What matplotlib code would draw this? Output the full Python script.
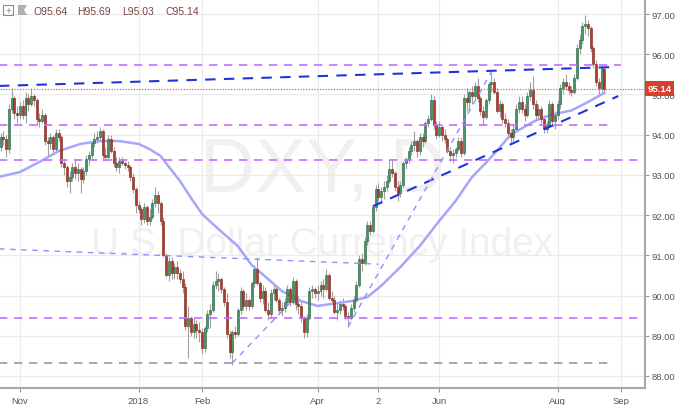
import numpy as np
import pandas as pd
import matplotlib
matplotlib.use("Agg")
import matplotlib.pyplot as plt
from matplotlib.patches import Rectangle, Polygon
from matplotlib.transforms import blended_transform_factory

# daily DXY candles, weekdays 2017-10-23 .. 2018-08-24
dates = pd.bdate_range("2017-10-23", "2018-08-24")

opens = [
    93.70, 93.95, 93.90, 93.65, 94.65, 94.90, 94.55,  # oct
    94.50, 94.70, 94.50, 94.90, 94.75, 94.95, 94.85, 94.40, 94.35, 94.50, 93.85,
    93.80, 93.95, 93.65, 94.05, 93.95, 93.30, 93.20, 92.85, 92.95, 93.20, 93.05,  # nov
    93.15, 92.90, 93.10, 93.40, 93.50, 93.80, 93.90, 93.95, 94.10, 93.50, 93.45,
    93.90, 93.60, 93.30, 93.20, 93.35, 93.30, 93.25, 93.20, 92.95, 92.65,  # dec
    92.25, 92.15, 91.90, 92.20, 91.85, 91.95, 92.30, 92.50, 92.30, 91.85, 91.00, 90.50,
    90.85, 90.55, 90.70, 90.55, 90.40, 90.20, 89.25, 89.45, 89.10, 89.30, 89.15,  # jan
    89.10, 88.70, 89.20, 89.55, 89.65, 90.25, 90.35, 90.40, 90.15, 89.85,
    89.05, 88.60, 89.10, 89.05, 89.65, 90.10, 89.75, 89.90, 89.75, 90.30,  # feb
    90.65, 90.30, 89.95, 90.10, 89.65, 89.55, 90.05, 90.15, 89.90, 89.65, 89.70,
    89.85, 90.15, 89.85, 90.35, 89.80, 89.75, 89.45, 89.10, 89.45, 90.10, 90.15,  # mar
    90.05, 90.10, 90.25, 90.15, 90.50, 89.95, 89.90, 89.60, 89.65, 89.80, 89.75,
    89.50, 89.45, 89.70, 89.90, 90.25, 90.90, 90.80, 91.35, 91.75, 91.60,  # apr
    92.20, 92.65, 92.45, 92.60, 92.70, 92.85, 93.15, 93.05, 92.70, 92.55, 92.75, 93.30,
    93.40, 93.60, 93.75, 93.85, 93.60, 93.95, 93.85, 94.30, 94.40, 94.85, 94.25,  # may
    94.00, 94.20, 94.00, 93.90, 93.60, 93.50, 93.55, 93.65, 93.85, 93.55, 94.90,
    94.80, 95.05, 94.95, 95.20, 94.90, 94.60, 94.45, 94.85, 95.25, 95.30,  # jun
    95.05, 94.60, 94.75, 94.40, 94.30, 94.05, 93.95, 94.15, 94.65, 94.80, 94.65,
    94.50, 94.95, 95.10, 94.75, 94.50, 94.65, 94.40, 94.15, 94.25, 94.75, 94.35,  # jul
    94.50, 94.75, 95.15, 95.30, 95.20, 95.10, 95.05, 95.40, 96.15,
    96.35, 96.70, 96.75, 96.65, 96.15, 95.75, 95.30, 95.15, 95.64,  # aug
]
highs = [
    94.05, 94.10, 94.00, 94.75, 95.15, 94.95, 94.70,
    94.80, 94.85, 95.05, 95.00, 95.15, 95.00, 94.90, 94.55, 94.65, 94.55, 93.95,
    94.05, 94.00, 94.15, 94.15, 94.00, 93.40, 93.25, 93.10, 93.30, 93.40, 93.30,
    93.20, 93.20, 93.50, 93.60, 93.85, 94.05, 94.10, 94.20, 94.15, 93.70, 94.00,
    94.00, 93.70, 93.45, 93.45, 93.45, 93.35, 93.35, 93.25, 93.05, 92.70,
    92.35, 92.20, 92.30, 92.25, 92.15, 92.40, 92.70, 92.60, 92.35, 91.95, 91.05, 90.95,
    90.95, 90.80, 90.85, 90.65, 90.60, 90.30, 89.75, 89.50, 89.45, 89.40, 89.35,
    89.20, 89.25, 89.65, 89.80, 90.35, 90.60, 90.55, 90.45, 90.20, 90.05,
    89.15, 89.15, 89.25, 89.70, 90.20, 90.15, 90.05, 89.95, 90.35, 90.75,
    90.95, 90.35, 90.25, 90.20, 89.85, 90.15, 90.30, 90.20, 89.95, 89.85, 89.95,
    90.25, 90.20, 90.45, 90.40, 90.00, 89.85, 89.50, 89.55, 90.20, 90.25, 90.20,
    90.25, 90.35, 90.40, 90.65, 90.55, 90.10, 90.00, 89.85, 89.90, 89.95, 89.80,
    89.60, 89.80, 90.00, 90.35, 91.00, 91.05, 91.45, 91.85, 91.85, 92.25,
    92.75, 92.80, 92.70, 92.85, 93.00, 93.40, 93.40, 93.10, 92.85, 92.85, 93.35, 93.45,
    93.70, 93.85, 94.10, 93.90, 94.05, 94.05, 94.35, 94.50, 95.00, 94.95, 94.35,
    94.35, 94.25, 94.15, 93.95, 93.70, 93.65, 93.70, 93.95, 93.95, 95.00, 95.15,
    95.10, 95.20, 95.30, 95.40, 94.95, 94.70, 94.90, 95.30, 95.55, 95.40,
    95.15, 94.85, 94.80, 94.55, 94.40, 94.15, 94.25, 94.75, 94.95, 94.95, 94.75,
    95.05, 95.30, 95.45, 94.85, 94.75, 94.70, 94.50, 94.35, 94.85, 94.80, 94.60,
    94.85, 95.25, 95.40, 95.50, 95.30, 95.20, 95.50, 96.25, 96.50,
    96.80, 96.98, 96.85, 96.70, 96.20, 95.85, 95.40, 95.70, 95.69,
]
lows = [
    93.60, 93.75, 93.45, 93.55, 94.55, 94.40, 94.30,
    94.40, 94.40, 94.30, 94.60, 94.70, 94.70, 94.25, 94.20, 94.30, 93.75, 93.45,
    93.65, 93.55, 93.60, 93.85, 93.20, 93.00, 92.70, 92.55, 92.85, 92.90, 92.85,
    92.55, 92.80, 93.00, 93.25, 93.40, 93.70, 93.80, 93.85, 93.35, 93.35, 93.40,
    93.55, 93.20, 93.10, 93.05, 93.25, 93.15, 93.10, 92.85, 92.55, 92.05,
    92.05, 91.75, 91.80, 91.75, 91.75, 91.90, 92.20, 92.05, 91.75, 90.95, 90.45, 90.35,
    90.40, 90.40, 90.40, 90.30, 90.05, 89.15, 88.45, 89.00, 88.95, 88.95, 88.85,
    88.55, 88.60, 89.10, 89.20, 89.60, 90.15, 90.10, 90.05, 89.75, 88.95,
    88.45, 88.28, 88.95, 89.00, 89.55, 89.65, 89.65, 89.65, 89.70, 90.20,
    90.25, 89.85, 89.80, 89.60, 89.40, 89.45, 89.90, 89.85, 89.55, 89.50, 89.60,
    89.75, 89.75, 89.80, 89.65, 89.55, 89.35, 88.95, 88.98, 89.40, 89.95, 89.95,
    89.90, 90.00, 89.95, 90.10, 89.90, 89.80, 89.55, 89.40, 89.55, 89.65, 89.40,
    89.22, 89.40, 89.60, 89.85, 90.20, 90.60, 90.75, 91.25, 91.50, 91.55,
    92.10, 92.35, 92.30, 92.40, 92.60, 92.80, 92.95, 92.60, 92.35, 92.45, 92.70, 93.15,
    93.30, 93.50, 93.60, 93.45, 93.50, 93.70, 93.80, 94.20, 94.35, 94.15, 93.90,
    93.95, 93.85, 93.80, 93.55, 93.35, 93.30, 93.45, 93.60, 93.45, 93.50, 94.60,
    94.60, 94.75, 94.85, 94.80, 94.50, 94.25, 94.40, 94.75, 95.05, 95.00,
    94.55, 94.45, 94.30, 94.20, 93.95, 93.80, 93.85, 94.10, 94.55, 94.55, 94.35,
    94.45, 94.85, 94.65, 94.35, 94.40, 94.30, 94.05, 94.05, 94.20, 94.25, 94.15,
    94.40, 94.65, 95.00, 95.10, 95.00, 94.95, 95.00, 95.35, 96.00,
    96.25, 96.50, 96.45, 96.05, 95.65, 95.20, 95.00, 95.05, 95.03,
]
closes = [
    93.95, 93.90, 93.65, 94.65, 94.90, 94.55, 94.50,
    94.70, 94.50, 94.90, 94.75, 94.95, 94.85, 94.40, 94.35, 94.50, 93.85, 93.80,
    93.95, 93.65, 94.05, 93.95, 93.30, 93.20, 92.85, 92.95, 93.20, 93.05, 93.15,
    92.90, 93.10, 93.40, 93.50, 93.80, 93.90, 93.95, 94.10, 93.50, 93.45, 93.90,
    93.60, 93.30, 93.20, 93.35, 93.30, 93.25, 93.20, 92.95, 92.65, 92.25,
    92.15, 91.90, 92.20, 91.85, 91.95, 92.30, 92.50, 92.30, 91.85, 91.00, 90.50, 90.85,
    90.55, 90.70, 90.55, 90.40, 90.20, 89.25, 89.45, 89.10, 89.30, 89.15, 89.10,
    88.70, 89.20, 89.55, 89.65, 90.25, 90.35, 90.40, 90.15, 89.85, 89.05,
    88.60, 89.10, 89.05, 89.65, 90.10, 89.75, 89.90, 89.75, 90.30, 90.65,
    90.30, 89.95, 90.10, 89.65, 89.55, 90.05, 90.15, 89.90, 89.65, 89.70, 89.85,
    90.15, 89.85, 90.35, 89.80, 89.75, 89.45, 89.10, 89.45, 90.10, 90.15, 90.05,
    90.10, 90.25, 90.15, 90.50, 89.95, 89.90, 89.60, 89.65, 89.80, 89.75, 89.50,
    89.45, 89.70, 89.90, 90.25, 90.90, 90.80, 91.35, 91.75, 91.60, 92.20,
    92.65, 92.45, 92.60, 92.70, 92.85, 93.15, 93.05, 92.70, 92.55, 92.75, 93.30, 93.40,
    93.60, 93.75, 93.85, 93.60, 93.95, 93.85, 94.30, 94.40, 94.85, 94.25, 94.00,
    94.20, 94.00, 93.90, 93.60, 93.50, 93.55, 93.65, 93.85, 93.55, 94.90, 94.80,
    95.05, 94.95, 95.20, 94.90, 94.60, 94.45, 94.85, 95.25, 95.30, 95.05,
    94.60, 94.75, 94.40, 94.30, 94.05, 93.95, 94.15, 94.65, 94.80, 94.65, 94.50,
    94.95, 95.10, 94.75, 94.50, 94.65, 94.40, 94.15, 94.25, 94.75, 94.35, 94.50,
    94.75, 95.15, 95.30, 95.20, 95.10, 95.05, 95.40, 96.15, 96.35,
    96.70, 96.75, 96.65, 96.15, 95.75, 95.30, 95.15, 95.65, 95.14,
]

# 50-day moving average, read at sample dates
ma_dates = ["2017-10-23", "2017-11-01", "2017-11-10", "2017-11-21", "2017-12-01",
            "2017-12-12", "2017-12-21", "2018-01-01", "2018-01-05", "2018-01-11",
            "2018-01-16", "2018-01-22", "2018-01-26", "2018-02-01", "2018-02-09",
            "2018-02-20", "2018-02-27", "2018-03-07", "2018-03-14", "2018-03-23",
            "2018-04-02", "2018-04-09", "2018-04-18", "2018-04-26", "2018-05-03",
            "2018-05-14", "2018-05-23", "2018-06-01", "2018-06-11", "2018-06-19",
            "2018-06-26", "2018-07-02", "2018-07-09", "2018-07-20", "2018-07-30",
            "2018-08-08", "2018-08-16", "2018-08-24"]
ma_vals = [92.96, 93.07, 93.32, 93.59, 93.77, 93.84, 93.84, 93.77, 93.64, 93.47,
           93.20, 92.85, 92.43, 92.03, 91.65, 91.23, 90.76, 90.41, 90.11, 89.86,
           89.74, 89.79, 89.86, 89.96, 90.24, 90.71, 91.23, 91.85, 92.35, 92.95,
           93.30, 93.60, 94.00, 94.35, 94.50, 94.60, 94.81, 95.04]

# horizontal levels: price, end date
purple_levels = [95.73, 94.24, 93.37, 89.44]
purple_ends = ["2018-09-03", "2018-08-29", "2018-09-14", "2018-09-14"]
gray_level = 88.32
gray_end = "2018-08-29"

# trend lines: (start date, start price, end date, end price)
blue_lines = [("2017-10-20", 95.21, "2018-08-29", 95.68),
              ("2018-04-30", 92.22, "2018-08-31", 94.96)]
lavender_lines = [("2017-10-20", 91.16, "2018-05-02", 90.78),
                  ("2018-02-16", 88.32, "2018-03-20", 89.89),
                  ("2018-04-17", 89.22, "2018-06-28", 95.56)]

tick_dates = ["2017-11-01", "2018-01-01", "2018-02-01", "2018-04-02",
              "2018-05-02", "2018-06-01", "2018-08-01", "2018-09-03"]
tick_labels = ["Nov", "2018", "Feb", "Apr", "2", "Jun", "Aug", "Sep"]
y_ticks = [88, 89, 90, 91, 92, 93, 94, 95, 96, 97]


def xpos(d):
    return np.busday_count(np.datetime64(dates[0].date()), np.datetime64(d, "D"))


plt.rcParams["font.family"] = ["Liberation Sans", "DejaVu Sans"]

fig = plt.figure(figsize=(6.8, 4.06), dpi=100)
ax = fig.add_axes([0, 17 / 406, 645 / 680, 389 / 406])

pos = np.arange(len(dates))
o = np.array(opens)
h = np.array(highs)
l = np.array(lows)
c = np.array(closes)
up = c >= o

ax.vlines(pos, l, h, color="#a0a0a0", lw=0.8, zorder=3)
ax.bar(pos[up], (c - o)[up], bottom=o[up], width=0.72, color="#45946a",
       edgecolor="#225f3c", lw=0.4, zorder=4)
ax.bar(pos[~up], (o - c)[~up], bottom=c[~up], width=0.72, color="#b3392c",
       edgecolor="#7a2117", lw=0.4, zorder=4)

ax.plot([xpos(d) for d in ma_dates], ma_vals, color="#a6a6fb", lw=1.8, zorder=3,
        solid_joinstyle="round")

x_left = xpos("2017-10-20")
for p, e in zip(purple_levels, purple_ends):
    ax.plot([x_left, xpos(e)], [p, p], color="#c070ff", lw=1.2, dashes=(5, 4), zorder=5)
ax.plot([x_left, xpos(gray_end)], [gray_level, gray_level], color="#9a9a9a", lw=1.2,
        dashes=(5, 4), zorder=5)
for d0, p0, d1, p1 in blue_lines:
    ax.plot([xpos(d0), xpos(d1)], [p0, p1], color="#2233dd", lw=1.5, dashes=(5, 4), zorder=5)
for d0, p0, d1, p1 in lavender_lines:
    ax.plot([xpos(d0), xpos(d1)], [p0, p1], color="#8f8fff", lw=1.0, dashes=(4, 4), zorder=5)

ax.axhline(closes[-1], color="#e04646", lw=0.8, ls=(0, (1, 1.5)), zorder=5)

# watermark
ax.text(0.5, (389 - 172) / 389, "DXY, D", transform=ax.transAxes, ha="center",
        va="center", fontsize=55, color="#f0f0f0", zorder=0)
ax.text(0.5, (389 - 245) / 389, "U.S. Dollar Currency Index", transform=ax.transAxes,
        ha="center", va="center", fontsize=28, color="#f0f0f0", zorder=0)

ax.set_xlim(-0.25, 233.7)
ax.set_ylim(87.70, 97.373)
ax.set_xticks([xpos(d) for d in tick_dates])
ax.set_xticklabels(tick_labels)
ax.set_yticks(y_ticks)
ax.set_yticklabels(["%.2f" % v for v in y_ticks])
ax.yaxis.tick_right()
ax.tick_params(axis="both", labelsize=6.8, labelcolor="#555555", color="#999999",
               length=3, width=0.8)
ax.tick_params(axis="y", pad=2)
ax.tick_params(axis="x", pad=3)
ax.grid(True, color="#ebebeb", lw=0.8, zorder=0)
ax.set_axisbelow(True)
for s in ["top", "left"]:
    ax.spines[s].set_visible(False)
for s in ["right", "bottom"]:
    ax.spines[s].set_color("#a8a8a8")
    ax.spines[s].set_linewidth(1.5)

# last price label
tr = blended_transform_factory(ax.transAxes, ax.transData)
ax.text(1.004, closes[-1], "%.2f" % closes[-1], transform=tr, ha="left", va="center",
        fontsize=6.8, fontweight="bold", color="white", clip_on=False,
        bbox=dict(boxstyle="square,pad=0.3", fc="#d6402c", ec="none"))

# header
fig.patches.append(Rectangle((3 / 680, 1 - 16 / 406), 10 / 680, 10 / 406,
                             transform=fig.transFigure, fill=False, ec="#8a8a8a", lw=0.8))
fig.text(8 / 680, 1 - 11 / 406, "+", ha="center", va="center", fontsize=7, color="#8a8a8a")
fig.patches.append(Polygon([(18 / 680, 1 - 6 / 406), (27 / 680, 1 - 6 / 406),
                            (24 / 680, 1 - 11 / 406), (27 / 680, 1 - 16 / 406),
                            (18 / 680, 1 - 16 / 406)], closed=True,
                           transform=fig.transFigure, fc="#b0b0b0", ec="none"))
header = [("O", opens[-1], 33), ("H", highs[-1], 77), ("L", lows[-1], 122), ("C", closes[-1], 165)]
for k, v, px in header:
    fig.text(px / 680, 1 - 12 / 406, "%s%.2f" % (k, v), ha="left", va="center",
             fontsize=7.5, color="#7a4444")

fig.savefig("out.png", dpi=100)
